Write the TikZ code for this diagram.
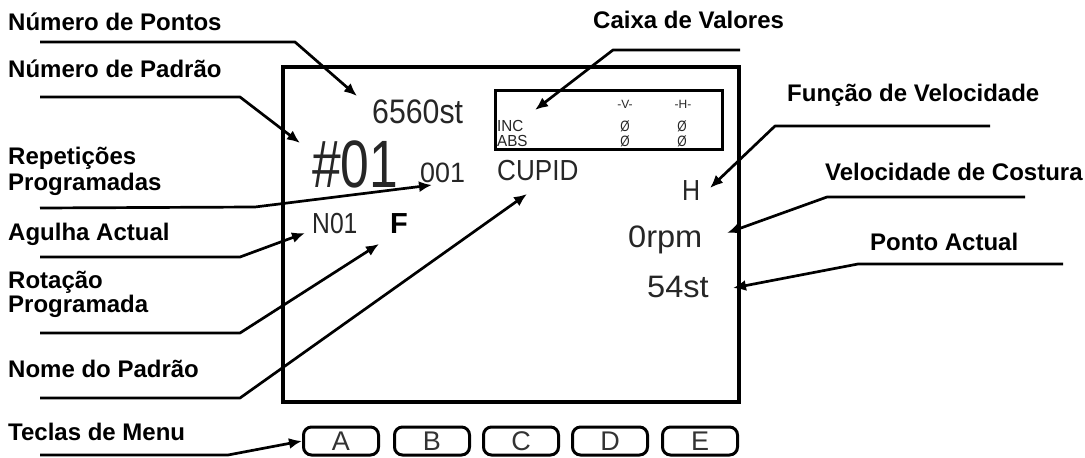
\documentclass[tikz,border=0pt]{standalone}
\usepackage{fontspec}
\usepackage{graphicx}
\setmainfont{Liberation Sans}
\usetikzlibrary{arrows.meta}
\newcommand{\sxx}[2]{\scalebox{#1}[1]{#2}}
\newcommand{\fsz}[1]{\fontsize{#1}{#1}\selectfont}
\begin{document}
\begin{tikzpicture}[x=1pt,y=-1pt,
  lbl/.style={font=\fsz{24}\bfseries, anchor=base west, inner sep=0pt, align=left},
  scr/.style={anchor=base west, inner sep=0pt, text=black!85},
  leader/.style={line width=2.7pt, line join=round, -{Latex[length=13pt,width=11pt]}},
  btn/.style={draw, line width=3pt, rounded corners=8pt, minimum width=75pt, minimum height=28pt, inner sep=0pt, font=\fsz{27}, text=black!80}
]
\useasboundingbox (0,0) rectangle (1085,458);
\fill[white] (0,0) rectangle (1085,458);

% screen and value box
\node[draw, line width=3.5pt, minimum width=456pt, minimum height=335pt, inner sep=0pt] (screen) at (511,234.5) {};
\node[draw, line width=3pt, minimum width=227pt, minimum height=59pt, inner sep=0pt] (vbox) at (608.5,119.5) {};

% value box contents
\node[scr, font=\fsz{16}] (inc) at (497,131) {\sxx{0.95}{INC}};
\node[scr, font=\fsz{16}] (abs) at (497,146) {\sxx{0.95}{ABS}};
\node[scr, font=\fsz{12}, anchor=base] (hv) at (625,108) {-V-};
\node[scr, font=\fsz{12}, anchor=base] (hh) at (683,108) {-H-};
\node[scr, font=\fsz{15}, anchor=base] (z1) at (625,131) {\sxx{0.8}{Ø}};
\node[scr, font=\fsz{15}, anchor=base] (z2) at (682,131) {\sxx{0.8}{Ø}};
\node[scr, font=\fsz{15}, anchor=base] (z3) at (625,146) {\sxx{0.8}{Ø}};
\node[scr, font=\fsz{15}, anchor=base] (z4) at (682,146) {\sxx{0.8}{Ø}};

% screen texts
\node[scr, font=\fsz{34}] (pts) at (372,123) {\sxx{0.89}{6560st}};
\node[scr, font=\fsz{67}] (pat) at (312,187) {\sxx{0.77}{\#01}};
\node[scr, font=\fsz{28}] (rep) at (420,182) {\sxx{0.96}{001}};
\node[scr, font=\fsz{29}] (name) at (497,180) {\sxx{0.9}{CUPID}};
\node[scr, font=\fsz{29}] (ndl) at (312,233) {\sxx{0.85}{N01}};
\node[scr, font=\fsz{29}\bfseries, text=black] (rot) at (390,233) {F};
\node[scr, font=\fsz{29}] (spf) at (682,200) {\sxx{0.86}{H}};
\node[scr, font=\fsz{31}] (spd) at (628,247) {\sxx{1.05}{0rpm}};
\node[scr, font=\fsz{31}] (cur) at (647,297) {\sxx{1.05}{54st}};

% menu keys
\node[btn] (kA) at (341,441) {A};
\node[btn] (kB) at (432,441) {B};
\node[btn] (kC) at (521,441) {C};
\node[btn] (kD) at (610,441) {D};
\node[btn] (kE) at (700,441) {E};

% labels
\node[lbl] (lPts) at (8,30) {Número de Pontos};
\node[lbl] (lPat) at (8,77) {Número de Padrão};
\node[lbl] (lRep) at (8,164) {Repetições};
\node[lbl] (lRep2) at (8,190) {Programadas};
\node[lbl] (lNdl) at (8,240) {Agulha Actual};
\node[lbl] (lRot) at (8,288) {Rotação};
\node[lbl] (lRot2) at (8,312) {Programada};
\node[lbl] (lName) at (8,377) {Nome do Padrão};
\node[lbl] (lKeys) at (8,440) {Teclas de Menu};
\node[lbl] (lBox) at (593,28) {Caixa de Valores};
\node[lbl] (lSpf) at (787,101) {Função de Velocidade};
\node[lbl] (lSpd) at (825,180) {Velocidade de Costura};
\node[lbl] (lCur) at (870,250) {Ponto Actual};

% leader coordinates
\coordinate (s1) at (40,42);   \coordinate (b1) at (295,42);  \coordinate (t1) at (357,96);
\coordinate (s2) at (40,97);   \coordinate (b2) at (240,97);  \coordinate (t2) at (300,143);
\coordinate (s3) at (740,50);  \coordinate (b3) at (613,50);  \coordinate (t3) at (535,110);
\coordinate (s4) at (990,126); \coordinate (b4) at (775,126); \coordinate (t4) at (710,188);
\coordinate (s5) at (1025,197);\coordinate (b5) at (827,197); \coordinate (t5) at (727,233);
\coordinate (s6) at (1063,264);\coordinate (b6) at (858,264); \coordinate (t6) at (733,288);
\coordinate (s7) at (40,208);  \coordinate (b7) at (255,207); \coordinate (t7) at (432,185);
\coordinate (s8) at (40,257);  \coordinate (b8) at (240,257); \coordinate (t8) at (305,233);
\coordinate (s9) at (40,333);  \coordinate (b9) at (240,333); \coordinate (t9) at (379,244);
\coordinate (s10) at (40,398); \coordinate (b10) at (240,398);\coordinate (t10) at (527,194);
\coordinate (s11) at (40,455); \coordinate (b11) at (228,455);\coordinate (t11) at (kA.west);

\foreach \i in {1,...,11} {
  \draw[leader] (s\i) -- (b\i) -- (t\i);
}
\end{tikzpicture}
\end{document}
